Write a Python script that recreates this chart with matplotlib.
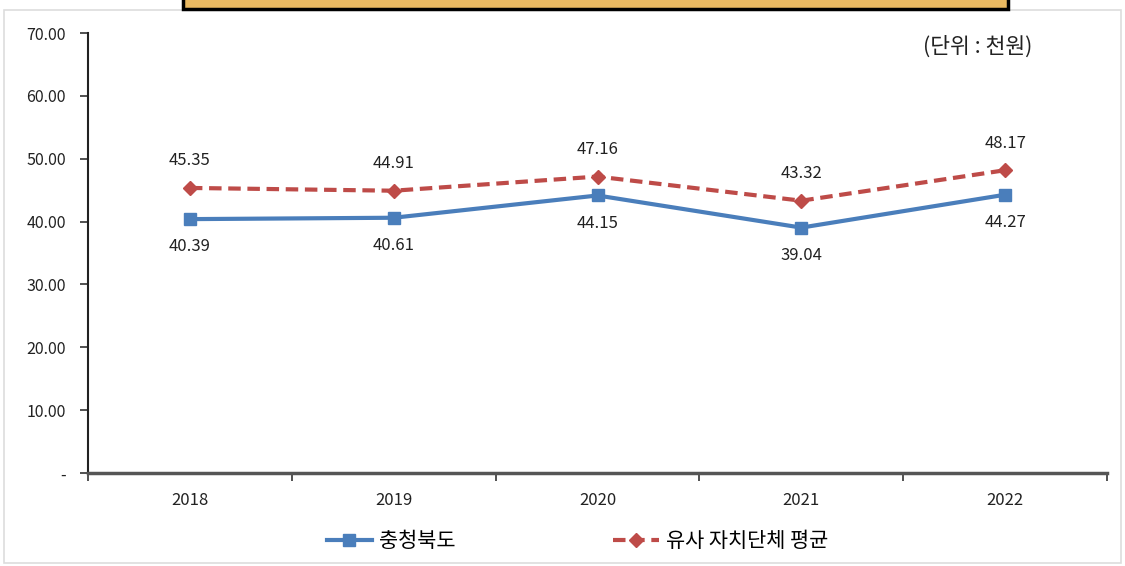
import matplotlib.pyplot as plt
from matplotlib.patches import Rectangle

plt.rcParams['font.family'] = ['Noto Sans CJK KR', 'DejaVu Sans']

years = ['2018', '2019', '2020', '2021', '2022']
chungbuk = [40.39, 40.61, 44.15, 39.04, 44.27]
similar_avg = [45.35, 44.91, 47.16, 43.32, 48.17]
series_names = ['충청북도', '유사 자치단체 평균']
y_ticks = [0, 10, 20, 30, 40, 50, 60, 70]
unit_text = '(단위 : 천원)'

blue = '#4A7EBB'
red = '#BE4B48'

fig = plt.figure(figsize=(11.25, 5.66), dpi=100)
ax = fig.add_axes([88 / 1125, 93 / 566, 1019 / 1125, 440 / 566])

x = list(range(len(years)))
ax.plot(x, chungbuk, color=blue, lw=3, marker='s', ms=9, label=series_names[0])
ax.plot(x, similar_avg, color=red, lw=3, ls=(0, (3, 1.6)), marker='D', ms=7,
        label=series_names[1])

for i in x:
    ax.annotate(f'{chungbuk[i]:.2f}', (i, chungbuk[i]), xytext=(0, -20),
                textcoords='offset points', ha='center', va='center',
                fontsize=12, color='#222222')
    ax.annotate(f'{similar_avg[i]:.2f}', (i, similar_avg[i]), xytext=(0, 19.5),
                textcoords='offset points', ha='center', va='center',
                fontsize=12, color='#222222')

ax.set_xlim(-0.5, len(years) - 0.5)
ax.set_ylim(0, 70)
ax.set_yticks(y_ticks)
ax.set_yticklabels(['-' if v == 0 else f'{v:.2f}' for v in y_ticks])
ax.set_xticks(x)
ax.set_xticklabels(years)
ax.set_xticks([i - 0.5 for i in range(len(years) + 1)], minor=True)
ax.tick_params(axis='x', which='major', length=0, pad=14, labelsize=12,
               labelcolor='#222222')
ax.tick_params(axis='x', which='minor', length=6, width=1.2, direction='out',
               color='#333333')
ax.tick_params(axis='y', length=6, width=1.2, pad=10, labelsize=11.5,
               labelcolor='#222222', color='#333333')

for side in ['top', 'right']:
    ax.spines[side].set_visible(False)
ax.spines['left'].set_color('#222222')
ax.spines['left'].set_linewidth(1.5)
ax.spines['bottom'].set_color('#555555')
ax.spines['bottom'].set_linewidth(2.5)

ax.text(0.927, 67.9, unit_text, transform=ax.get_yaxis_transform(),
        ha='right', va='center', fontsize=15.5, color='#222222')

fig.legend(loc='center', bbox_to_anchor=(0.513, 1 - 541 / 566), ncol=2,
           frameon=False, fontsize=15, columnspacing=7.6, handlelength=2.2,
           handletextpad=0.3)

# cropped banner at the top and light frame
fig.add_artist(Rectangle((183 / 1125, 1 - 9 / 566), 825 / 1125, 12 / 566,
                         transform=fig.transFigure, facecolor='#E9B962',
                         edgecolor='black', lw=2.5, clip_on=False))
fig.add_artist(Rectangle((4 / 1125, 3 / 566), 1117 / 1125, 553 / 566,
                         transform=fig.transFigure, facecolor='none',
                         edgecolor='#dddddd', lw=1.2, zorder=0))

fig.savefig('out.png', dpi=100)
